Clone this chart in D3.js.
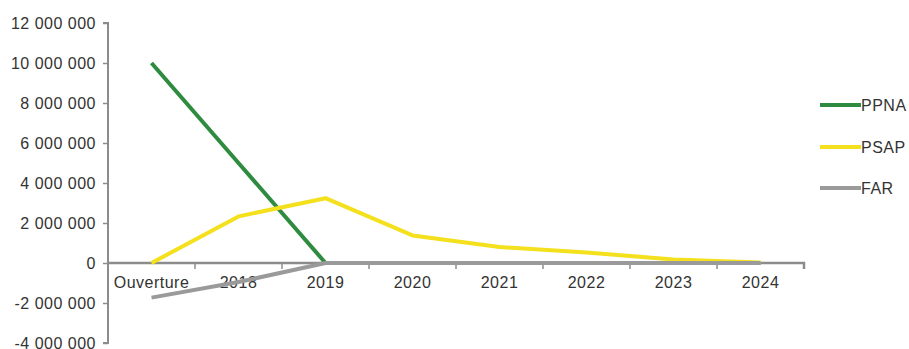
<!DOCTYPE html>
<html><head><meta charset="utf-8">
<script src="https://cdn.jsdelivr.net/npm/d3@7"></script>
<style>body{margin:0;background:#fff}svg{display:block}text{font-family:"Liberation Sans",Arial,sans-serif;letter-spacing:0.5px}</style>
</head><body><svg id="c" width="909" height="349"></svg>
<script>
const categories = ["Ouverture","2018","2019","2020","2021","2022","2023","2024"];
const ppna = [10000000, 5000000, 0, 0, 0, 0, 0, 0];
const psap = [0, 2330000, 3240000, 1380000, 800000, 520000, 180000, 30000];
const far = [-1730000, -950000, 0, 0, 0, 0, 0, 0];
const yTicks = [12000000,10000000,8000000,6000000,4000000,2000000,0,-2000000,-4000000];
const seriesNames = ["PPNA","PSAP","FAR"];
const colors = ["#2e8b3f","#f4e01c","#9a9a9a"];

const svg = d3.select("#c");
const x = d3.scaleBand().domain(categories).range([108,804]);
const y = d3.scaleLinear().domain([-4000000,12000000]).range([343,23]);
const fmt = v => d3.format(",")(v).replace(/,/g," ").replace("−","-");

// y axis
const ya = svg.append("g").attr("transform","translate(108,0)")
  .call(d3.axisLeft(y).tickValues(yTicks).tickSize(5).tickPadding(7).tickFormat(fmt));
ya.select(".domain").attr("stroke","#8c8c8c").attr("stroke-width",2).attr("d","M-5,23H0V343H-5");
ya.selectAll(".tick line").attr("stroke","#8c8c8c").attr("stroke-width",1.5);
ya.selectAll("text").attr("fill","#333").style("font-size","16px");

// x axis at zero
const xa = svg.append("g").attr("transform",`translate(0,${y(0)})`)
  .call(d3.axisBottom(x).tickSize(0).tickPadding(14));
xa.select(".domain").attr("stroke","#8c8c8c").attr("stroke-width",2.5).attr("d","M108,0H804V6");
xa.selectAll("text").attr("fill","#333").style("font-size","16px");
categories.slice(1).forEach(c=>{
  svg.append("line").attr("x1",x(c)).attr("x2",x(c)).attr("y1",y(0)).attr("y2",y(0)+6)
    .attr("stroke","#8c8c8c").attr("stroke-width",1.5);
});

const line = d3.line().x((d,i)=>x(categories[i])+x.bandwidth()/2).y(d=>y(d));
[ppna,psap,far].forEach((s,k)=>{
  svg.append("path").datum(s).attr("d",line).attr("fill","none")
    .attr("stroke",colors[k]).attr("stroke-width",4).attr("stroke-linejoin","round");
});

// legend
const ly = [105,147,188];
seriesNames.forEach((n,k)=>{
  svg.append("line").attr("x1",820).attr("x2",861).attr("y1",ly[k]).attr("y2",ly[k])
    .attr("stroke",colors[k]).attr("stroke-width",4);
  svg.append("text").attr("x",861).attr("y",ly[k]).attr("dy","0.35em").attr("fill","#333")
    .style("font-size","16px").text(n);
});
</script></body></html>
